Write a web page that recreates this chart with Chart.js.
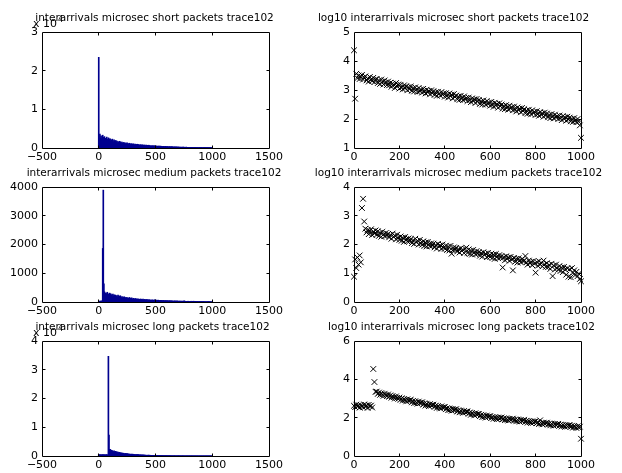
<!DOCTYPE html>
<html lang="en">
<head>
<meta charset="UTF-8">
<title>interarrivals trace102</title>
<script src="https://cdn.jsdelivr.net/npm/chart.js"></script>
<style>
    body { margin: 0; background: #fff; }
    #fig { position: relative; width: 622px; height: 473px; overflow: hidden; }
    #fig canvas { position: absolute; }
</style>
</head>
<body>
<div id="fig">
    <canvas id="hShort"></canvas>
    <canvas id="lShort"></canvas>
    <canvas id="hMedium"></canvas>
    <canvas id="lMedium"></canvas>
    <canvas id="hLong"></canvas>
    <canvas id="lLong"></canvas>
</div>

<script>
    // counts sampled every 5 microseconds (0 .. 1000), read as log10 values off the right-hand plots
    const xStep = 5;

    const logShort = [
        4.37, 2.70, 3.56, 3.41, 3.50, 3.38, 3.47, 3.52, 3.36, 3.44,
        3.47, 3.33, 3.40, 3.29, 3.45, 3.36, 3.31, 3.42, 3.27, 3.37,
        3.38, 3.24, 3.33, 3.21, 3.36, 3.28, 3.19, 3.33, 3.26, 3.17,
        3.29, 3.16, 3.25, 3.11, 3.22, 3.18, 3.07, 3.24, 3.13, 3.19,
        3.05, 3.18, 3.09, 3.02, 3.16, 3.07, 3.13, 2.99, 3.10, 3.03,
        3.12, 2.97, 3.06, 2.95, 3.09, 3.01, 2.93, 3.07, 2.96, 3.02,
        2.91, 3.04, 2.95, 2.88, 3.01, 2.92, 2.97, 2.85, 2.99, 2.89,
        2.96, 2.83, 2.92, 2.80, 2.94, 2.87, 2.81, 2.93, 2.84, 2.88,
        2.77, 2.89, 2.80, 2.74, 2.88, 2.79, 2.84, 2.71, 2.86, 2.76,
        2.81, 2.68, 2.77, 2.66, 2.80, 2.72, 2.65, 2.78, 2.69, 2.73,
        2.62, 2.74, 2.65, 2.58, 2.71, 2.63, 2.68, 2.55, 2.69, 2.60,
        2.66, 2.52, 2.61, 2.50, 2.64, 2.56, 2.49, 2.62, 2.53, 2.57,
        2.46, 2.59, 2.49, 2.42, 2.56, 2.47, 2.52, 2.39, 2.54, 2.44,
        2.50, 2.36, 2.45, 2.34, 2.48, 2.40, 2.32, 2.46, 2.37, 2.41,
        2.30, 2.43, 2.33, 2.26, 2.40, 2.31, 2.36, 2.23, 2.38, 2.28,
        2.34, 2.20, 2.29, 2.18, 2.32, 2.24, 2.16, 2.30, 2.21, 2.25,
        2.14, 2.27, 2.17, 2.11, 2.24, 2.15, 2.20, 2.08, 2.22, 2.12,
        2.19, 2.06, 2.14, 2.03, 2.17, 2.09, 2.02, 2.15, 2.06, 2.10,
        2.00, 2.12, 2.03, 1.96, 2.10, 2.01, 2.06, 1.94, 2.08, 1.98,
        2.05, 1.92, 2.01, 1.90, 2.03, 1.95, 1.89, 2.00, 1.91, 1.78,
        1.35
    ];

    const logMedium = [
        0.88, 1.48, 1.18, 1.55, 1.30, 1.62, 1.38, 3.27, 3.59, 2.80,
        2.55, 2.42, 2.50, 2.36, 2.47, 2.53, 2.33, 2.45, 2.38, 2.49,
        2.34, 2.46, 2.30, 2.41, 2.27, 2.44, 2.35, 2.29, 2.40, 2.31,
        2.37, 2.25, 2.33, 2.20, 2.38, 2.27, 2.31, 2.18, 2.34, 2.23,
        2.16, 2.28, 2.13, 2.24, 2.09, 2.26, 2.17, 2.11, 2.21, 2.12,
        2.19, 2.05, 2.14, 2.02, 2.20, 2.09, 2.13, 2.00, 2.16, 2.04,
        1.99, 2.11, 1.95, 2.07, 1.93, 2.09, 2.00, 1.94, 2.04, 1.96,
        2.03, 1.90, 1.98, 1.86, 2.02, 1.93, 1.97, 1.85, 2.00, 1.89,
        1.85, 1.96, 1.81, 1.93, 1.79, 1.95, 1.68, 1.80, 1.90, 1.82,
        1.88, 1.76, 1.84, 1.72, 1.87, 1.78, 1.82, 1.70, 1.85, 1.89,
        1.71, 1.83, 1.67, 1.79, 1.65, 1.81, 1.72, 1.66, 1.77, 1.68,
        1.74, 1.61, 1.70, 1.58, 1.73, 1.64, 1.68, 1.56, 1.71, 1.60,
        1.57, 1.68, 1.53, 1.65, 1.50, 1.67, 1.58, 1.52, 1.63, 1.54,
        1.60, 1.20, 1.56, 1.45, 1.59, 1.50, 1.55, 1.43, 1.57, 1.48,
        1.10, 1.53, 1.40, 1.50, 1.37, 1.52, 1.44, 1.38, 1.49, 1.41,
        1.45, 1.60, 1.38, 1.30, 1.44, 1.35, 1.40, 1.28, 1.42, 1.33,
        1.02, 1.39, 1.26, 1.42, 1.30, 1.36, 1.24, 1.44, 1.31, 1.22,
        1.35, 1.21, 1.29, 1.15, 1.33, 0.90, 1.27, 1.13, 1.30, 1.18,
        1.12, 1.25, 1.08, 1.20, 1.04, 1.22, 1.13, 0.95, 1.17, 0.88,
        1.14, 0.86, 1.18, 1.02, 1.10, 0.94, 1.05, 0.90, 0.98, 0.80,
        0.72
    ];

    const logLong = [
        2.62, 2.55, 2.68, 2.58, 2.65, 2.52, 2.66, 2.60, 2.54, 2.69,
        2.57, 2.64, 2.51, 2.67, 2.59, 2.63, 2.53, 4.54, 3.86, 3.35,
        3.36, 3.24, 3.31, 3.19, 3.28, 3.22, 3.14, 3.25, 3.18, 3.12,
        3.21, 3.09, 3.16, 3.04, 3.13, 3.07, 3.00, 3.11, 3.03, 2.98,
        3.05, 2.93, 3.01, 2.89, 2.98, 2.92, 2.85, 2.96, 2.88, 2.91,
        2.93, 2.80, 2.88, 2.76, 2.86, 2.79, 2.73, 2.84, 2.76, 2.79,
        2.80, 2.68, 2.75, 2.63, 2.73, 2.66, 2.60, 2.71, 2.64, 2.67,
        2.68, 2.56, 2.63, 2.51, 2.61, 2.54, 2.48, 2.59, 2.52, 2.55,
        2.55, 2.44, 2.50, 2.39, 2.48, 2.42, 2.36, 2.46, 2.39, 2.43,
        2.44, 2.32, 2.39, 2.28, 2.37, 2.31, 2.25, 2.35, 2.28, 2.32,
        2.32, 2.20, 2.27, 2.15, 2.25, 2.18, 2.12, 2.23, 2.16, 2.19,
        2.20, 2.08, 2.15, 2.03, 2.13, 2.06, 2.00, 2.11, 2.04, 2.07,
        2.08, 1.98, 2.04, 1.94, 2.03, 1.97, 1.92, 2.01, 1.95, 1.99,
        2.01, 1.91, 1.97, 1.87, 1.96, 1.90, 1.85, 1.94, 1.88, 1.92,
        1.95, 1.85, 1.91, 1.81, 1.90, 1.84, 1.79, 1.88, 1.82, 1.86,
        1.88, 1.78, 1.84, 1.74, 1.83, 1.77, 1.72, 1.81, 1.75, 1.79,
        1.81, 1.71, 1.77, 1.67, 1.86, 1.70, 1.65, 1.74, 1.68, 1.72,
        1.74, 1.64, 1.70, 1.60, 1.69, 1.63, 1.58, 1.67, 1.61, 1.65,
        1.68, 1.58, 1.64, 1.54, 1.63, 1.57, 1.52, 1.61, 1.55, 1.59,
        1.62, 1.52, 1.58, 1.48, 1.57, 1.51, 1.46, 1.55, 1.49, 1.53,
        0.90
    ];

    const histXTicks = [-500, 0, 500, 1000, 1500];
    const logXTicks = [0, 200, 400, 600, 800, 1000];
    const shortCountTicks = [0, 10000, 20000, 30000];
    const mediumCountTicks = [0, 1000, 2000, 3000, 4000];
    const longCountTicks = [0, 10000, 20000, 30000, 40000];
    const shortLogTicks = [1, 2, 3, 4, 5];
    const mediumLogTicks = [0, 1, 2, 3, 4];
    const longLogTicks = [0, 2, 4, 6];

    const titles = {
        hShort: "interarrivals microsec short packets trace102",
        lShort: "log10 interarrivals microsec short packets trace102",
        hMedium: "interarrivals microsec medium packets trace102",
        lMedium: "log10 interarrivals microsec medium packets trace102",
        hLong: "interarrivals microsec long packets trace102",
        lLong: "log10 interarrivals microsec long packets trace102"
    };

    const FONT = '"DejaVu Sans", "Liberation Sans", Arial, sans-serif';

    function minus(v) {
        return String(v).replace('-', '\u2212');
    }

    // box + inward ticks on all sides, title and the "x 10^4" multiplier, MATLAB style
    const matlabAxes = {
        id: 'matlabAxes',
        afterDatasetsDraw(chart, args, opts) {
            const ctx = chart.ctx;
            const a = chart.chartArea;
            const sx = chart.scales.x, sy = chart.scales.y;
            const l = Math.floor(a.left) + 0.5, r = Math.floor(a.right) + 0.5;
            const t = Math.floor(a.top) + 0.5, b = Math.floor(a.bottom) + 0.5;
            ctx.save();
            ctx.strokeStyle = '#000';
            ctx.lineWidth = 1;
            ctx.beginPath();
            ctx.rect(l, t, r - l, b - t);
            sx.ticks.forEach(function (tk) {
                const p = Math.floor(sx.getPixelForValue(tk.value)) + 0.5;
                if (p <= l + 1 || p >= r - 1) return;
                ctx.moveTo(p, b); ctx.lineTo(p, b - 3);
                ctx.moveTo(p, t); ctx.lineTo(p, t + 3);
            });
            sy.ticks.forEach(function (tk) {
                const p = Math.floor(sy.getPixelForValue(tk.value)) + 0.5;
                if (p <= t + 1 || p >= b - 1) return;
                ctx.moveTo(l, p); ctx.lineTo(l + 3, p);
                ctx.moveTo(r, p); ctx.lineTo(r - 3, p);
            });
            ctx.stroke();

            ctx.fillStyle = '#000';
            ctx.font = '10.5px ' + FONT;
            ctx.textAlign = 'center';
            ctx.textBaseline = 'middle';
            ctx.fillText(opts.title, opts.titleX, a.top - 14);

            if (opts.expo) {
                ctx.font = '11px ' + FONT;
                ctx.textAlign = 'left';
                ctx.textBaseline = 'alphabetic';
                ctx.fillText('x 10', a.left - 9, a.top - 5);
                const w = ctx.measureText('x 10').width;
                ctx.font = '8px ' + FONT;
                ctx.fillText('4', a.left - 9 + w + 1, a.top - 10);
            }
            ctx.restore();
        }
    };

    function makeChart(id, box, area, kind, values, xTicks, yTicks, expo, titleX) {
        const canvas = document.getElementById(id);
        canvas.width = box.w;
        canvas.height = box.h;
        canvas.style.left = box.x + 'px';
        canvas.style.top = box.y + 'px';

        const xs = values.map(function (v, i) { return i * xStep; });
        let dataset;
        if (kind === 'hist') {
            dataset = {
                type: 'bar',
                data: values.map(function (v, i) { return { x: xs[i], y: Math.pow(10, v) }; }),
                backgroundColor: '#00008f',
                borderWidth: 0,
                barThickness: 1
            };
        } else {
            dataset = {
                type: 'scatter',
                data: values.map(function (v, i) { return { x: xs[i], y: v }; }),
                pointStyle: 'crossRot',
                pointRadius: 4,
                borderColor: '#000',
                backgroundColor: '#000',
                borderWidth: 1,
                clip: false
            };
        }

        const tickFont = { family: FONT, size: 11 };

        new Chart(canvas, {
            type: kind === 'hist' ? 'bar' : 'scatter',
            data: { datasets: [dataset] },
            plugins: [matlabAxes],
            options: {
                responsive: false,
                animation: false,
                events: [],
                layout: {
                    padding: { left: 0, top: area.t - box.y, right: box.x + box.w - area.r, bottom: 0 }
                },
                plugins: {
                    legend: { display: false },
                    tooltip: { enabled: false },
                    matlabAxes: { title: titles[id], titleX: titleX - box.x, expo: expo }
                },
                scales: {
                    x: {
                        type: 'linear',
                        offset: false,
                        min: xTicks[0],
                        max: xTicks[xTicks.length - 1],
                        grid: { display: false, drawTicks: false },
                        border: { display: false },
                        ticks: {
                            color: '#000', font: tickFont, padding: 3, maxRotation: 0, autoSkip: false,
                            callback: function (v) { return minus(v); }
                        },
                        afterBuildTicks: function (s) { s.ticks = xTicks.map(function (v) { return { value: v }; }); },
                        afterFit: function (s) { s.height = box.y + box.h - area.b; }
                    },
                    y: {
                        type: 'linear',
                        min: yTicks[0],
                        max: yTicks[yTicks.length - 1],
                        grid: { display: false, drawTicks: false },
                        border: { display: false },
                        ticks: {
                            color: '#000', font: tickFont, padding: 4, autoSkip: false,
                            callback: function (v) { return expo ? String(v / 10000) : String(v); }
                        },
                        afterBuildTicks: function (s) { s.ticks = yTicks.map(function (v) { return { value: v }; }); },
                        afterFit: function (s) { s.width = area.l - box.x; }
                    }
                }
            }
        });
    }

    const rowBoxes = [{ y: 0, h: 166 }, { y: 158, h: 160 }, { y: 313, h: 160 }];
    const rowAreas = [{ t: 32, b: 148 }, { t: 187, b: 302 }, { t: 341, b: 456 }];

    function leftArea(i) { return { l: 42, r: 269, t: rowAreas[i].t, b: rowAreas[i].b }; }
    function rightArea(i) { return { l: 354, r: 581, t: rowAreas[i].t, b: rowAreas[i].b }; }
    function leftBox(i) { return { x: 0, y: rowBoxes[i].y, w: 300, h: rowBoxes[i].h }; }
    function rightBox(i) { return { x: 280, y: rowBoxes[i].y, w: 342, h: rowBoxes[i].h }; }

    makeChart('hShort', leftBox(0), leftArea(0), 'hist', logShort, histXTicks, shortCountTicks, true, 154.5);
    makeChart('lShort', rightBox(0), rightArea(0), 'log', logShort, logXTicks, shortLogTicks, false, 453.5);
    makeChart('hMedium', leftBox(1), leftArea(1), 'hist', logMedium, histXTicks, mediumCountTicks, false, 154);
    makeChart('lMedium', rightBox(1), rightArea(1), 'log', logMedium, logXTicks, mediumLogTicks, false, 458.5);
    makeChart('hLong', leftBox(2), leftArea(2), 'hist', logLong, histXTicks, longCountTicks, true, 152.5);
    makeChart('lLong', rightBox(2), rightArea(2), 'log', logLong, logXTicks, longLogTicks, false, 461.5);
</script>
</body>
</html>
